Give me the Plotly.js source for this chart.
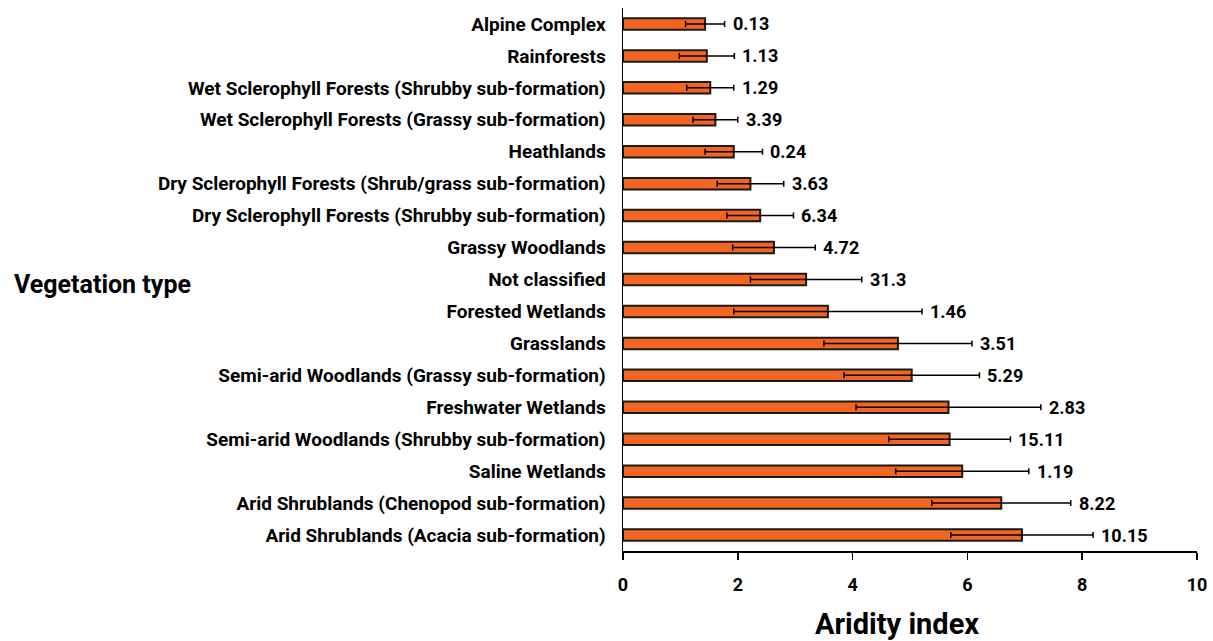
<!DOCTYPE html>
<html><head><meta charset="utf-8">
<script src="https://cdn.plot.ly/plotly-3.0.1.min.js"></script>
<style>html,body{margin:0;padding:0;background:#fff}#chart{width:1213px;height:641px}</style>
</head><body><div id="chart"></div>
<script>
const categories = [
  "Alpine Complex",
  "Rainforests",
  "Wet Sclerophyll Forests (Shrubby sub-formation)",
  "Wet Sclerophyll Forests (Grassy sub-formation)",
  "Heathlands",
  "Dry Sclerophyll Forests (Shrub/grass sub-formation)",
  "Dry Sclerophyll Forests (Shrubby sub-formation)",
  "Grassy Woodlands",
  "Not classified",
  "Forested Wetlands",
  "Grasslands",
  "Semi-arid Woodlands (Grassy sub-formation)",
  "Freshwater Wetlands",
  "Semi-arid Woodlands (Shrubby sub-formation)",
  "Saline Wetlands",
  "Arid Shrublands (Chenopod sub-formation)",
  "Arid Shrublands (Acacia sub-formation)"
];
const aridityMean = [1.43, 1.46, 1.52, 1.61, 1.93, 2.22, 2.39, 2.63, 3.19, 3.57, 4.79, 5.03, 5.67, 5.69, 5.91, 6.59, 6.95];
const aridityErr  = [0.34, 0.48, 0.41, 0.39, 0.50, 0.58, 0.58, 0.72, 0.97, 1.64, 1.29, 1.18, 1.61, 1.06, 1.16, 1.21, 1.24];
const labels = ["0.13","1.13","1.29","3.39","0.24","3.63","6.34","4.72","31.3","1.46","3.51","5.29","2.83","15.11","1.19","8.22","10.15"];
const xTicks = [0, 2, 4, 6, 8, 10];

const FONT = "Roboto, 'Liberation Sans', sans-serif";

const bars = {
  type: 'bar', orientation: 'h',
  x: aridityMean, y: categories,
  width: 0.36,
  marker: {color: '#F26522', line: {color: '#1a1a1a', width: 2}},
  error_x: {type: 'data', array: aridityErr, visible: true, color: '#000', thickness: 1.5, width: 3},
  hoverinfo: 'x+y'
};

const valueAnnotations = labels.map((t, i) => ({
  text: t, xref: 'x', yref: 'y',
  x: aridityMean[i] + aridityErr[i], y: categories[i],
  xanchor: 'left', yanchor: 'middle', xshift: 6, yshift: 0,
  showarrow: false,
  font: {family: FONT, size: 18, color: '#000', weight: 'bold'}
}));

const layout = {
  width: 1213, height: 641,
  margin: {l: 623, r: 16, t: 8, b: 90},
  paper_bgcolor: '#fff', plot_bgcolor: '#fff',
  showlegend: false,
  font: {family: FONT, color: '#000'},
  xaxis: {
    range: [0, 10], tickvals: xTicks, ticktext: xTicks.map(String),
    showgrid: false, zeroline: false, automargin: false,
    showline: true, linecolor: '#000', linewidth: 1.5,
    ticks: 'outside', ticklen: 7, tickwidth: 1.5, tickcolor: '#000',
    ticklabelstandoff: 10,
    tickfont: {family: FONT, size: 18, color: '#000', weight: 'bold'}
  },
  yaxis: {
    type: 'category', range: [16.5, -0.5],
    categoryorder: 'array', categoryarray: categories,
    showgrid: false, zeroline: false, automargin: false,
    showline: true, linecolor: '#000', linewidth: 1.5,
    ticks: '', ticklen: 0,
    tickfont: {family: FONT, size: 19, color: '#000', weight: 'bold'},
    ticklabelstandoff: 12
  },
  annotations: valueAnnotations.concat([
    {
      text: 'Vegetation type', xref: 'paper', yref: 'paper',
      x: (12 - 623) / 574, y: (551 - 285) / 543, xanchor: 'left', yanchor: 'middle',
      showarrow: false,
      font: {family: FONT, size: 25, color: '#000', weight: 'bold'}
    },
    {
      text: 'Aridity index', xref: 'paper', yref: 'paper',
      x: (897 - 623) / 574, y: -(624 - 551) / 543, xanchor: 'center', yanchor: 'middle',
      showarrow: false,
      font: {family: FONT, size: 29, color: '#000', weight: 'bold'}
    }
  ])
};

Plotly.newPlot('chart', [bars], layout, {displayModeBar: false, staticPlot: true});
</script>
</body></html>
